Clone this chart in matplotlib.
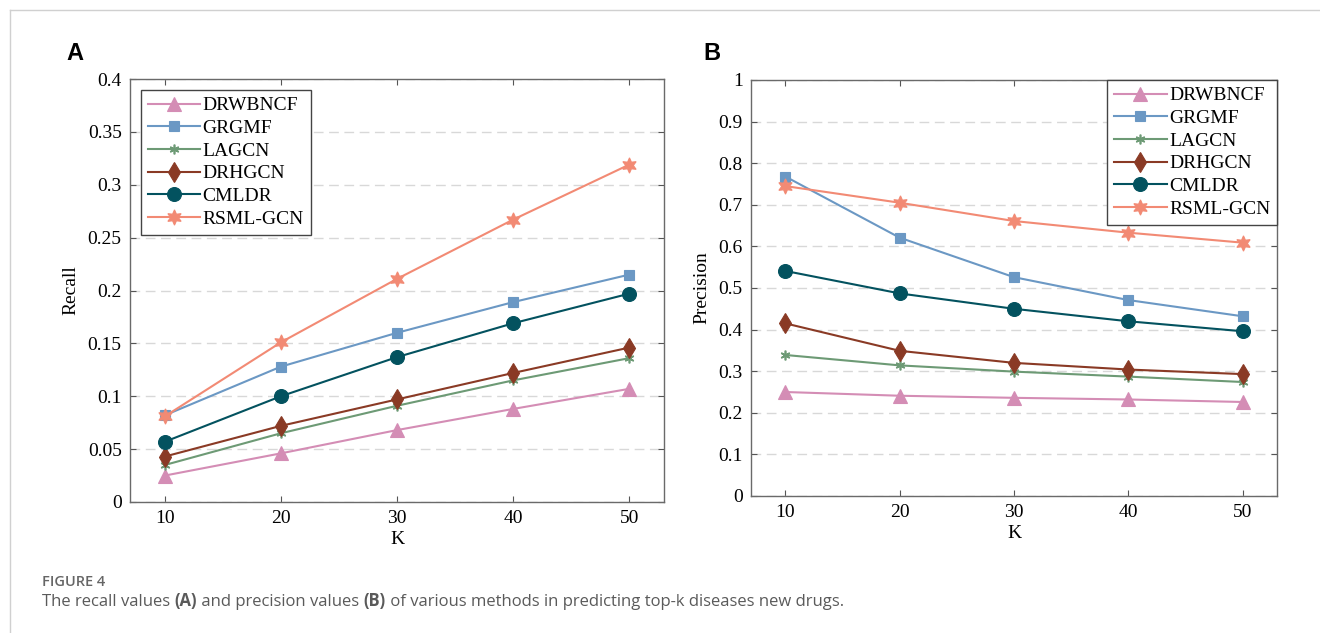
import matplotlib
matplotlib.use('Agg')
import matplotlib.pyplot as plt
from matplotlib.lines import Line2D

# top-k values
K = [10, 20, 30, 40, 50]
methods = ['DRWBNCF', 'GRGMF', 'LAGCN', 'DRHGCN', 'CMLDR', 'RSML-GCN']

recall_drwbncf = [0.025, 0.046, 0.068, 0.088, 0.107]
recall_grgmf = [0.082, 0.128, 0.160, 0.189, 0.215]
recall_lagcn = [0.035, 0.065, 0.091, 0.115, 0.136]
recall_drhgcn = [0.043, 0.072, 0.097, 0.122, 0.146]
recall_cmldr = [0.057, 0.100, 0.137, 0.169, 0.197]
recall_rsml = [0.081, 0.151, 0.211, 0.267, 0.319]

prec_drwbncf = [0.250, 0.241, 0.236, 0.232, 0.226]
prec_grgmf = [0.768, 0.621, 0.526, 0.471, 0.432]
prec_lagcn = [0.339, 0.314, 0.299, 0.287, 0.274]
prec_drhgcn = [0.415, 0.349, 0.320, 0.304, 0.293]
prec_cmldr = [0.541, 0.487, 0.450, 0.420, 0.396]
prec_rsml = [0.745, 0.705, 0.661, 0.633, 0.609]

recall = [recall_drwbncf, recall_grgmf, recall_lagcn, recall_drhgcn, recall_cmldr, recall_rsml]
precision = [prec_drwbncf, prec_grgmf, prec_lagcn, prec_drhgcn, prec_cmldr, prec_rsml]

colors = ['#d48db5', '#6b98c4', '#6d9a75', '#8a3a25', '#03525f', '#f28a74']
markers = ['^', 's', (6, 2, 0), 'd', 'o', (6, 1, 0)]
msizes = [10, 7, 7, 10, 10, 11]

SERIF = 'Liberation Serif'
plt.rcParams['font.family'] = SERIF
plt.rcParams['font.size'] = 13.5

fig = plt.figure(figsize=(13.2, 6.33), dpi=100)

# page frame lines
fig.add_artist(Line2D([10 / 1320, 1], [1 - 10 / 633, 1 - 10 / 633], color='#d0d0d0', lw=1))
fig.add_artist(Line2D([10 / 1320, 10 / 1320], [0, 1 - 10 / 633], color='#d0d0d0', lw=1))

axA = fig.add_axes([130 / 1320, 1 - 502 / 633, 534 / 1320, 423 / 633])
axB = fig.add_axes([751 / 1320, 1 - 496 / 633, 526 / 1320, 416 / 633])


def draw(ax, data, ylim, yticks, ylabel, leg_anchor, leg_loc):
	for i in range(len(methods)):
		ax.plot(K, data[i], color=colors[i], marker=markers[i], markersize=msizes[i],
				lw=1.5, label=methods[i], markeredgecolor=colors[i],
				markeredgewidth=1.2 if i == 2 else 0.8)
	ax.set_xlim(7, 53)
	ax.set_ylim(*ylim)
	ax.set_xticks(K)
	ax.set_xticklabels([str(k) for k in K], fontfamily=SERIF, fontsize=14)
	ax.set_yticks(yticks)
	ax.set_yticklabels([('%g' % v) for v in yticks], fontfamily=SERIF, fontsize=14)
	ax.yaxis.grid(True, color='#d8d8d8', ls=(0, (7, 4)), lw=1)
	ax.set_axisbelow(True)
	ax.tick_params(direction='in', length=4, width=0.8, color='#555555',
				   top=True, right=True, pad=6)
	for s in ax.spines.values():
		s.set_color('#6a6a6a')
		s.set_linewidth(1)
	ax.set_xlabel('K', labelpad=3, fontfamily=SERIF, fontsize=14)
	ax.set_ylabel(ylabel, labelpad=6, fontfamily=SERIF, fontsize=14)
	leg = ax.legend(loc=leg_loc, bbox_to_anchor=leg_anchor, borderaxespad=0,
					fancybox=False, framealpha=1, edgecolor='#444444',
					handlelength=2.7, handletextpad=0.12, labelspacing=0.26,
					borderpad=0.35, prop={'family': SERIF, 'size': 14})
	leg.get_frame().set_linewidth(1)


draw(axA, recall, (0, 0.4), [0, 0.05, 0.1, 0.15, 0.2, 0.25, 0.3, 0.35, 0.4], 'Recall',
	 (11 / 534, 1 - 11 / 423), 'upper left')
draw(axB, precision, (0, 1), [0, 0.1, 0.2, 0.3, 0.4, 0.5, 0.6, 0.7, 0.8, 0.9, 1], 'Precision',
	 (1, 1), 'upper right')

# panel letters
fig.text(75 / 1320, 1 - 53 / 633, 'A', family='Liberation Sans', weight='bold', fontsize=17,
		 ha='center', va='center')
fig.text(712 / 1320, 1 - 53 / 633, 'B', family='Liberation Sans', weight='bold', fontsize=17,
		 ha='center', va='center')

# caption
cap = {'family': 'Open Sans', 'color': '#5a5a5a', 'fontsize': 12}
fig.text(42 / 1320, 1 - 586 / 633, 'FIGURE 4', family='Open Sans', weight='semibold',
		 color='#666666', fontsize=10.5)
parts = [('The recall values ', 'normal'), ('(A)', 'bold'), (' and precision values ', 'normal'),
		 ('(B)', 'bold'), (' of various methods in predicting top-k diseases new drugs.', 'normal')]
prev = fig.text(42 / 1320, 1 - 606 / 633, parts[0][0], **cap)
for txt, w in parts[1:]:
	prev = axA.annotate(txt, xy=(1, 0), xycoords=prev, xytext=(0, 0), textcoords='offset points',
						va='bottom', ha='left', weight=w, annotation_clip=False, **cap)

fig.savefig('out.png', dpi=100)
